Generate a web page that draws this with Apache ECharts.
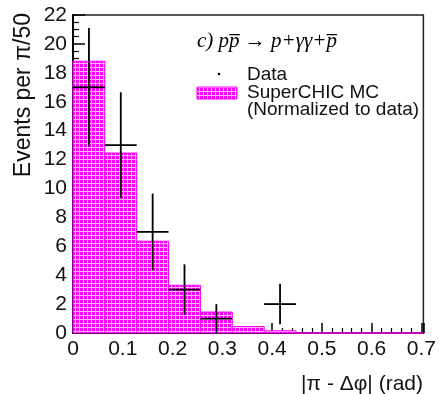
<!DOCTYPE html>
<html>
<head>
<meta charset="utf-8">
<script src="https://cdn.jsdelivr.net/npm/echarts@6/dist/echarts.min.js"></script>
<style>html,body{margin:0;padding:0;background:#fff;}#c{width:439px;height:394px;}</style>
</head>
<body>
<div id="c"></div>
<script>
// ---- data ----
const binWidth = 0.064;
const binLowEdges = [0, 0.064, 0.128, 0.192, 0.256, 0.32, 0.384, 0.448, 0.512, 0.576, 0.64];
const mcValues    = [18.8, 12.45, 6.35, 3.3, 1.45, 0.45, 0.15, 0, 0, 0, 0];
const dataValues  = [17, 13, 7, 3, 1, 0, 2, 0, 0, 0, 0];
const dataErrors  = [4.1, 3.65, 2.65, 1.75, 1.0, 0, 1.4, 0, 0, 0, 0];
const xTickLabels = ['0', '0.1', '0.2', '0.3', '0.4', '0.5', '0.6', '0.7'];
const yTickLabels = ['0','2','4','6','8','10','12','14','16','18','20','22'];

// hatch pattern (ROOT-like fill)
function makePattern() {
  const c = document.createElement('canvas');
  c.width = 4; c.height = 4;
  const g = c.getContext('2d');
  g.fillStyle = '#ff00ff';
  g.fillRect(0, 0, 4, 4);
  g.fillStyle = 'rgba(255,255,255,0.7)';
  g.fillRect(0, 3, 4, 1);
  g.fillRect(3, 0, 1, 3);
  return c;
}
const pattern = { image: makePattern(), repeat: 'repeat' };

const mcData = binLowEdges.map((lo, i) => [lo, lo + binWidth, mcValues[i]]);
const dataPts = binLowEdges.map((lo, i) => [lo, lo + binWidth, dataValues[i], dataErrors[i]])
                           .filter(d => d[2] > 0);

const chart = echarts.init(document.getElementById('c'), null, {renderer: 'canvas'});
const labelFont = {fontFamily: 'Liberation Sans, Arial, sans-serif', fontSize: 21, color: '#111'};
const sans = '"Liberation Sans", Arial, sans-serif';

chart.setOption({
  animation: false,
  backgroundColor: '#fff',
  grid: {left: 73, right: 15, top: 15, bottom: 61, show: true, borderColor: '#222', borderWidth: 1.5, backgroundColor: 'transparent'},
  xAxis: {
    type: 'value', min: 0, max: 0.704, interval: 0.1,
    axisLine: {show: true, onZero: false, lineStyle: {color: '#000', width: 2}},
    axisTick: {show: true, inside: true, length: 10, lineStyle: {color: '#000', width: 1.5}},
    minorTick: {show: true, splitNumber: 5, length: 5, lineStyle: {color: '#000', width: 1.2}},
    splitLine: {show: false},
    axisLabel: Object.assign({
      margin: 6,
      formatter: function (v) {
        const k = Math.round(v * 10);
        return Math.abs(v * 10 - k) < 1e-6 ? (xTickLabels[k] || '') : '';
      }
    }, labelFont)
  },
  yAxis: {
    type: 'value', min: 0, max: 22, interval: 2,
    axisLine: {show: true, onZero: false, lineStyle: {color: '#000', width: 2}},
    axisTick: {show: true, inside: true, length: 12, lineStyle: {color: '#000', width: 1.5}},
    minorTick: {show: true, splitNumber: 4, length: 6, lineStyle: {color: '#000', width: 1.2}},
    splitLine: {show: false},
    axisLabel: Object.assign({
      margin: 6,
      formatter: function (v) { return yTickLabels[Math.round(v / 2)] || ''; }
    }, labelFont)
  },
  series: [
    {
      type: 'custom', name: 'SuperCHIC MC', z: 2,
      data: mcData,
      renderItem: function (params, api) {
        const p0 = api.coord([api.value(0), api.value(2)]);
        const p1 = api.coord([api.value(1), 0]);
        return {
          type: 'rect',
          shape: {x: p0[0], y: p0[1], width: p1[0] - p0[0], height: p1[1] - p0[1]},
          style: {fill: pattern, stroke: '#ff00ff', lineWidth: 1}
        };
      }
    },
    {
      type: 'custom', name: 'Data', z: 3,
      data: dataPts,
      renderItem: function (params, api) {
        const x0 = api.value(0), x1 = api.value(1), y = api.value(2), e = api.value(3);
        const xc = (x0 + x1) / 2;
        const a = api.coord([x0, y]), b = api.coord([x1, y]);
        const t = api.coord([xc, y + e]), u = api.coord([xc, y - e]);
        const st = {stroke: '#000', lineWidth: 1.8};
        return {
          type: 'group',
          children: [
            {type: 'line', shape: {x1: a[0], y1: a[1], x2: b[0], y2: b[1]}, style: st},
            {type: 'line', shape: {x1: t[0], y1: t[1], x2: u[0], y2: u[1]}, style: st}
          ]
        };
      }
    }
  ],
  graphic: [
    {type: 'text', x: 24, y: 13, rotation: Math.PI / 2,
     style: {text: 'Events per π/50', font: '23px ' + sans, fill: '#111', align: 'right', verticalAlign: 'middle'}},
    {type: 'text', x: 423, y: 384,
     style: {text: '|π - Δφ| (rad)', font: '21px ' + sans, fill: '#111', align: 'right', verticalAlign: 'middle'}},
    {type: 'text', x: 197, y: 41,
     style: {text: 'c) pp\u0305 \u2192 p+γγ+p\u0305', font: 'italic 21px "Liberation Serif", "DejaVu Serif", serif', fill: '#000', align: 'left', verticalAlign: 'middle'}},
    {type: 'circle', shape: {cx: 219, cy: 74, r: 1.3}, style: {fill: '#000'}},
    {type: 'text', x: 247, y: 75,
     style: {text: 'Data', font: '19px ' + sans, fill: '#111', align: 'left', verticalAlign: 'middle'}},
    {type: 'rect', shape: {x: 197, y: 87, width: 40, height: 12}, style: {fill: pattern, stroke: '#ff00ff', lineWidth: 1}},
    {type: 'text', x: 247, y: 93,
     style: {text: 'SuperCHIC MC', font: '19px ' + sans, fill: '#111', align: 'left', verticalAlign: 'middle'}},
    {type: 'text', x: 247, y: 110,
     style: {text: '(Normalized to data)', font: '19px ' + sans, fill: '#111', align: 'left', verticalAlign: 'middle'}}
  ]
});
</script>
</body>
</html>
